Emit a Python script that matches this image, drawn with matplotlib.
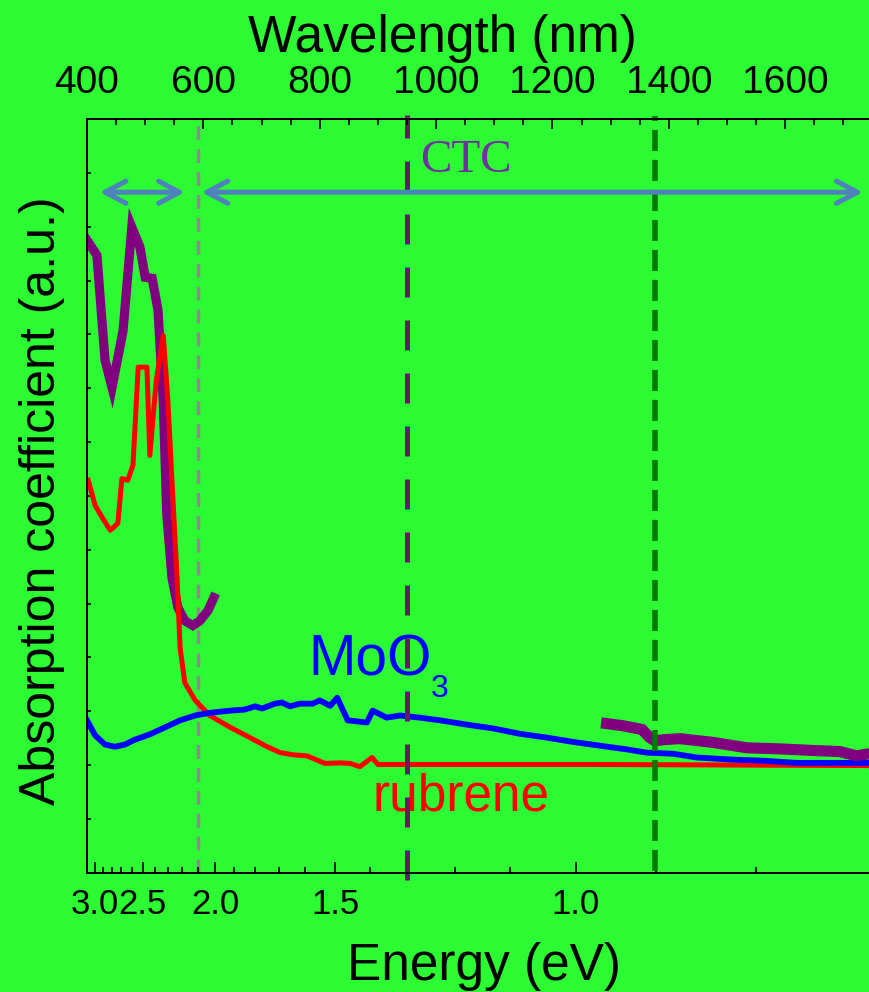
import matplotlib
matplotlib.use("Agg")
import matplotlib.pyplot as plt
from matplotlib.patches import FancyArrowPatch
from matplotlib.ticker import FixedLocator, MultipleLocator

BG = "#2cfa33"
SANS = ["Liberation Sans", "DejaVu Sans"]

# CTC absorption (visible part and NIR part), wavelength in nm, a.u.
ctc_vis_nm = [400, 417, 431, 443, 462, 477, 491, 500, 512, 522, 531, 537, 546,
              556, 568, 582, 594, 608, 618]
ctc_vis_abs = [11.75, 11.47, 9.52, 9.01, 10.07, 11.99, 11.62, 11.06, 11.04,
               10.45, 8.77, 6.67, 5.48, 4.93, 4.68, 4.59, 4.68, 4.87, 5.11]
ctc_nir_nm = [1293, 1321, 1354, 1367, 1376, 1390, 1419, 1476, 1534, 1591,
              1648, 1694, 1723, 1744]
ctc_nir_abs = [2.77, 2.73, 2.66, 2.51, 2.45, 2.47, 2.49, 2.42, 2.32, 2.30,
               2.27, 2.25, 2.17, 2.21]

# MoO3
moo3_nm = [400, 414, 431, 448, 465, 482, 508, 534, 560, 586, 611, 646, 671,
           689, 701, 723, 735, 749, 766, 788, 800, 818, 830, 848, 881, 891,
           915, 938, 972, 1007, 1053, 1098, 1144, 1190, 1235, 1281, 1328, 1362,
           1407, 1448, 1510, 1562, 1620, 1677, 1744]
moo3_abs = [2.83, 2.55, 2.38, 2.34, 2.38, 2.47, 2.57, 2.70, 2.83, 2.92, 2.97,
            3.01, 3.03, 3.09, 3.05, 3.14, 3.16, 3.09, 3.14, 3.14, 3.20, 3.10,
            3.25, 2.83, 2.79, 3.01, 2.88, 2.92, 2.88, 2.83, 2.75, 2.68, 2.58,
            2.51, 2.43, 2.36, 2.29, 2.23, 2.21, 2.14, 2.10, 2.08, 2.04, 2.04,
            2.04]

# rubrene
rub_nm = [402, 414, 426, 440, 453, 460, 470, 479, 488, 503, 508, 519, 531,
          539, 546, 555, 560, 568, 586, 611, 646, 680, 706, 732, 754, 778,
          809, 835, 852, 869, 890, 900, 1281, 1744]
rub_abs = [7.29, 6.82, 6.60, 6.36, 6.49, 7.32, 7.29, 7.57, 9.39, 9.39, 7.75,
           9.14, 9.98, 8.77, 7.29, 5.43, 4.18, 3.53, 3.20, 2.92, 2.70, 2.51,
           2.36, 2.23, 2.19, 2.17, 2.03, 2.04, 2.03, 1.97, 2.14, 2.01, 2.01,
           1.99]

# axis ticks
wl_major = [400, 600, 800, 1000, 1200, 1400, 1600]
energy_major = [3.0, 2.5, 2.0, 1.5, 1.0]
energy_minor = [round(0.8 + 0.1 * i, 1) for i in range(24)]

# vertical markers (nm)
gray_line_nm = 591
ctc_line_nm = 950
green_line_nm = 1376

fig = plt.figure(figsize=(8.69, 9.92), dpi=100)
fig.patch.set_facecolor(BG)
ax = fig.add_axes([87 / 869, 1 - 872.7 / 992, 1 - 87 / 869, (872.7 - 119) / 992])
ax.set_facecolor(BG)
ax.set_xlim(400, 1744)
ax.set_ylim(0, 14)

ax.plot(rub_nm, rub_abs, color="#ff0000", lw=3.6, zorder=3)
ax.plot(moo3_nm, moo3_abs, color="#0000ff", lw=4.2, zorder=4)
ax.plot(ctc_vis_nm, ctc_vis_abs, color="#800080", lw=6.6, zorder=2,
        solid_joinstyle="miter")
ax.plot(ctc_nir_nm, ctc_nir_abs, color="#800080", lw=8.0, zorder=5,
        solid_joinstyle="miter")

ax.axvline(gray_line_nm, color="#8c8c8c", lw=2.5, ls=(0, (4.0, 2.6)), zorder=1)
ax.axvline(ctc_line_nm, ymin=-0.01, ymax=1.005, color="#6a166a", lw=3.6,
           ls=(0, (6.0, 4.6)), zorder=6, clip_on=False)
ax.axvline(green_line_nm, ymin=0.002, ymax=1.004, color="#007a00", lw=4.0,
           ls=(0, (3.8, 1.6)), zorder=6, clip_on=False)

arrow_kw = dict(arrowstyle="<->,head_length=15,head_width=8", color="#4f81bd",
                lw=3.6, shrinkA=0, shrinkB=0, capstyle="round",
                joinstyle="round", zorder=7)
ax.add_patch(FancyArrowPatch((422, 12.64), (568, 12.64), **arrow_kw))
ax.add_patch(FancyArrowPatch((597, 12.64), (1733, 12.64), **arrow_kw))

ax.text(972, 13.02, "CTC", color="#7030a0", fontsize=34,
        family=["Liberation Serif", "DejaVu Serif"], va="baseline")
ax.text(780, 3.67, "MoO", color="#0000ff", fontsize=41, family=SANS,
        va="baseline")
ax.text(990, 3.26, "3", color="#0000ff", fontsize=23, family=SANS,
        va="baseline")
ax.text(890, 1.15, "rubrene", color="#ff0000", fontsize=37, family=SANS,
        va="baseline")

# bottom axis: energy labels on the wavelength scale
ax.xaxis.set_major_locator(FixedLocator([1239.84 / e for e in energy_major]))
ax.xaxis.set_minor_locator(FixedLocator([1239.84 / e for e in energy_minor]))
ax.set_xticklabels([f"{e:.1f}" for e in energy_major])
ax.yaxis.set_major_locator(MultipleLocator(1))
ax.tick_params(axis="x", which="major", direction="in", length=8, width=1.2,
               labelsize=25, pad=11, labelfontfamily=SANS)
ax.tick_params(axis="x", which="minor", direction="in", length=4.5, width=1.2)
ax.tick_params(axis="y", direction="in", length=3, width=1.2, labelleft=False)

top = ax.twiny()
top.set_xlim(ax.get_xlim())
top.xaxis.set_major_locator(FixedLocator(wl_major))
top.xaxis.set_minor_locator(MultipleLocator(50))
top.set_xticklabels([str(w) for w in wl_major])
top.tick_params(axis="x", which="major", direction="in", length=7.5, width=1.2,
                labelsize=28, pad=13, labelfontfamily=SANS)
top.tick_params(axis="x", which="minor", direction="in", length=4.5, width=1.2)

for a in (ax, top):
    a.spines["right"].set_visible(False)
    for s in ("left", "top", "bottom"):
        a.spines[s].set_linewidth(1.4)

fig.text(442 / 869, 1 - 52 / 992, "Wavelength (nm)", fontsize=37, family=SANS,
         ha="center", va="baseline")
fig.text(484 / 869, 1 - 980 / 992, "Energy (eV)", fontsize=37, family=SANS,
         ha="center", va="baseline")
fig.text(55 / 869, 1 - 501 / 992, "Absorption coefficient (a.u.)", fontsize=36,
         family=SANS, rotation=90, rotation_mode="anchor", ha="center",
         va="baseline")

fig.savefig("out.png", dpi=100, facecolor=BG)
